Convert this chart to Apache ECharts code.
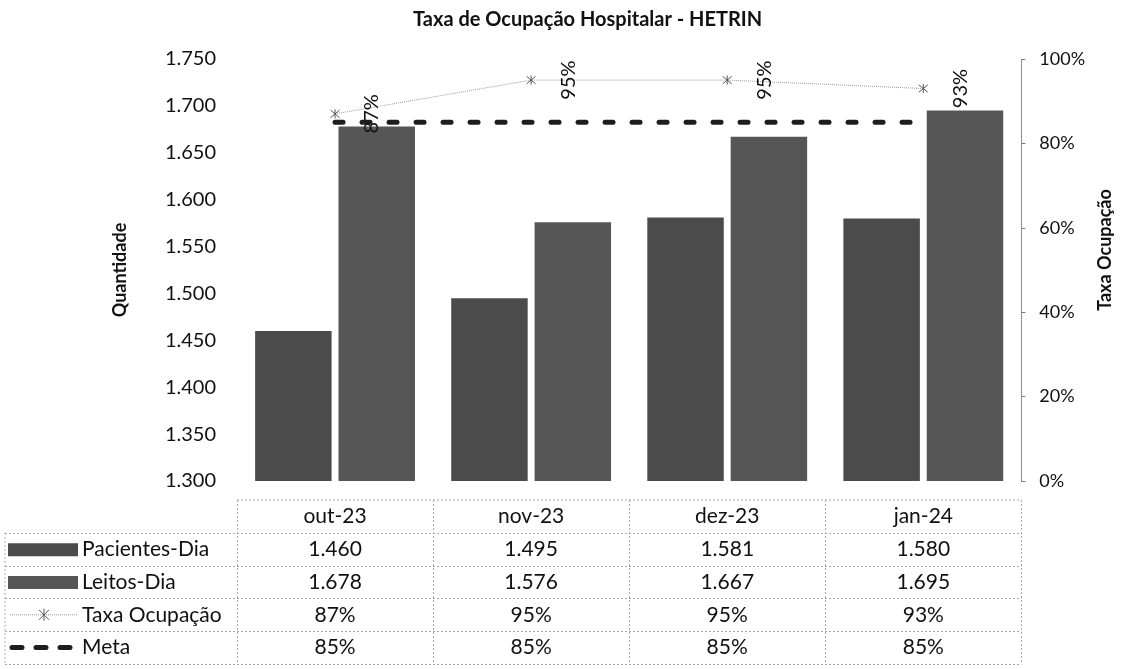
<!DOCTYPE html>
<html>
<head>
<meta charset="utf-8">
<script src="https://cdn.jsdelivr.net/npm/echarts@6/dist/echarts.min.js"></script>
<style>
  html, body { margin: 0; padding: 0; background: #fff; }
  #chart { width: 1122px; height: 669px; }
</style>
</head>
<body>
<div id="chart"></div>
<script>
const categories = ['out-23', 'nov-23', 'dez-23', 'jan-24'];
const pacientesDia = [1460, 1495, 1581, 1580];
const leitosDia = [1678, 1576, 1667, 1695];
const taxaOcupacao = [0.87, 0.95, 0.95, 0.93];
const meta = [0.85, 0.85, 0.85, 0.85];

// axis ticks
const qtdAxis = { min: 1300, max: 1750, interval: 50 };
const pctAxis = { min: 0, max: 1, interval: 0.2 };

const FONT = 'Lato, "Open Sans", sans-serif';
const fmtQtd = v => (v / 1000).toFixed(3);          // 1.460 style
const fmtPct = v => Math.round(v * 100) + '%';

const chartDom = document.getElementById('chart');
const myChart = echarts.init(chartDom);

const grid = { left: 237, right: 87, top: 59, bottom: 188 };

const starPath = 'path://M0,0L10,10M10,0L0,10M5,-1L5,11';

const option = {
  animation: false,
  textStyle: { fontFamily: FONT },
  title: {
    text: 'Taxa de Ocupação Hospitalar - HETRIN',
    left: 408,
    top: 5,
    textStyle: { fontFamily: FONT, fontSize: 20, fontWeight: 'bold', color: '#111' }
  },
  grid,
  xAxis: {
    type: 'category',
    data: categories,
    axisLine: { show: false },
    axisTick: { show: false },
    axisLabel: { show: false }
  },
  yAxis: [
    {
      type: 'value',
      min: qtdAxis.min,
      max: qtdAxis.max,
      interval: qtdAxis.interval,
      name: 'Quantidade',
      nameLocation: 'middle',
      nameGap: 108,
      nameRotate: 90,
      nameTextStyle: { fontFamily: FONT, fontSize: 18, fontWeight: 'bold', color: '#111' },
      axisLine: { show: false },
      axisTick: { show: false },
      splitLine: { show: false },
      axisLabel: { formatter: fmtQtd, fontSize: 20, color: '#111', margin: 21 }
    },
    {
      type: 'value',
      position: 'right',
      min: pctAxis.min,
      max: pctAxis.max,
      interval: pctAxis.interval,
      name: 'Taxa Ocupação',
      nameLocation: 'middle',
      nameGap: 63,
      nameRotate: 90,
      nameTextStyle: { fontFamily: FONT, fontSize: 18, fontWeight: 'bold', color: '#111', padding: [0, 0, 0, 40] },
      axisLine: { show: true, lineStyle: { color: '#777', type: 'dotted', width: 1 } },
      axisTick: { show: true, length: 4, lineStyle: { color: '#777' } },
      splitLine: { show: false },
      axisLabel: { formatter: fmtPct, fontSize: 18, color: '#111', margin: 18 }
    }
  ],
  series: [
    {
      name: 'Pacientes-Dia',
      type: 'bar',
      data: pacientesDia,
      barWidth: '39%',
      barGap: '9%',
      itemStyle: { color: '#4b4b4b' }
    },
    {
      name: 'Leitos-Dia',
      type: 'bar',
      data: leitosDia,
      barWidth: '39%',
      itemStyle: { color: '#565656' }
    },
    {
      name: 'Taxa Ocupação',
      type: 'line',
      yAxisIndex: 1,
      data: taxaOcupacao,
      symbol: starPath,
      symbolSize: 9,
      itemStyle: { color: 'none', borderColor: '#555', borderWidth: 1 },
      lineStyle: { color: '#9a9a9a', width: 1, type: 'dotted' },
      label: {
        show: true,
        position: 'right',
        distance: 20,
        rotate: 90,
        align: 'center',
        verticalAlign: 'top',
        fontSize: 20,
        color: '#111',
        formatter: p => fmtPct(p.value)
      },
      z: 4
    },
    {
      name: 'Meta',
      type: 'line',
      yAxisIndex: 1,
      data: meta,
      symbol: 'none',
      lineStyle: { color: '#1e1e1e', width: 5, type: [8, 19], cap: 'round' },
      z: 3
    }
  ]
};

myChart.setOption(option);

// data table under the plot, columns follow the category axis
function buildTable() {
  const centers = categories.map((c, i) => myChart.convertToPixel({ xAxisIndex: 0 }, i));
  const band = centers[1] - centers[0];
  const colLeft = centers[0] - band / 2;
  const colRight = centers[centers.length - 1] + band / 2;
  const tableTop = 500;
  const rowH = 32.8;
  const labelLeft = 5;
  const rows = [
    { name: 'Pacientes-Dia', values: pacientesDia.map(fmtQtd), key: 'bar', color: '#4b4b4b' },
    { name: 'Leitos-Dia', values: leitosDia.map(fmtQtd), key: 'bar', color: '#565656' },
    { name: 'Taxa Ocupação', values: taxaOcupacao.map(fmtPct), key: 'star' },
    { name: 'Meta', values: meta.map(fmtPct), key: 'dash' }
  ];
  const lineStyle = { stroke: '#a8a8a8', lineWidth: 1, lineDash: [2, 2] };
  const g = [];
  const bottom = tableTop + rowH * (rows.length + 1);

  // horizontal lines
  g.push({ type: 'line', shape: { x1: colLeft, y1: tableTop, x2: colRight, y2: tableTop }, style: lineStyle, silent: true });
  for (let r = 1; r <= rows.length + 1; r++) {
    const y = Math.round(tableTop + rowH * r) + 0.5;
    g.push({ type: 'line', shape: { x1: labelLeft, y1: y, x2: colRight, y2: y }, style: lineStyle, silent: true });
  }
  // vertical lines
  g.push({ type: 'line', shape: { x1: labelLeft, y1: tableTop + rowH, x2: labelLeft, y2: bottom }, style: lineStyle, silent: true });
  for (let i = 0; i <= categories.length; i++) {
    const x = Math.round(colLeft + band * i) + 0.5;
    g.push({ type: 'line', shape: { x1: x, y1: tableTop, x2: x, y2: bottom }, style: lineStyle, silent: true });
  }

  const cellText = { fontFamily: FONT, fontSize: 21, fill: '#111', align: 'center', verticalAlign: 'middle' };
  // header
  categories.forEach((c, i) => {
    g.push({ type: 'text', x: centers[i], y: tableTop + rowH / 2, style: Object.assign({ text: c }, cellText), silent: true });
  });
  rows.forEach((row, r) => {
    const yMid = tableTop + rowH * (r + 1.5);
    row.values.forEach((v, i) => {
      g.push({ type: 'text', x: centers[i], y: yMid, style: Object.assign({ text: v }, cellText), silent: true });
    });
    g.push({ type: 'text', x: 82, y: yMid, style: Object.assign({}, cellText, { text: row.name, align: 'left' }), silent: true });
    if (row.key === 'bar') {
      g.push({ type: 'rect', shape: { x: 8, y: yMid - 6, width: 70, height: 13 }, style: { fill: row.color }, silent: true });
    } else if (row.key === 'star') {
      g.push({ type: 'line', shape: { x1: 10, y1: yMid, x2: 78, y2: yMid }, style: { stroke: '#9a9a9a', lineWidth: 1, lineDash: [1, 1] }, silent: true });
      g.push({ type: 'line', shape: { x1: 39, y1: yMid - 5, x2: 49, y2: yMid + 5 }, style: { stroke: '#555', lineWidth: 1 }, silent: true });
      g.push({ type: 'line', shape: { x1: 49, y1: yMid - 5, x2: 39, y2: yMid + 5 }, style: { stroke: '#555', lineWidth: 1 }, silent: true });
      g.push({ type: 'line', shape: { x1: 44, y1: yMid - 6, x2: 44, y2: yMid + 6 }, style: { stroke: '#555', lineWidth: 1 }, silent: true });
    } else {
      g.push({ type: 'line', shape: { x1: 12, y1: yMid, x2: 78, y2: yMid }, style: { stroke: '#1e1e1e', lineWidth: 5, lineDash: [10, 14], lineCap: 'round' }, silent: true });
    }
  });
  myChart.setOption({ graphic: g });
}
buildTable();
</script>
</body>
</html>
